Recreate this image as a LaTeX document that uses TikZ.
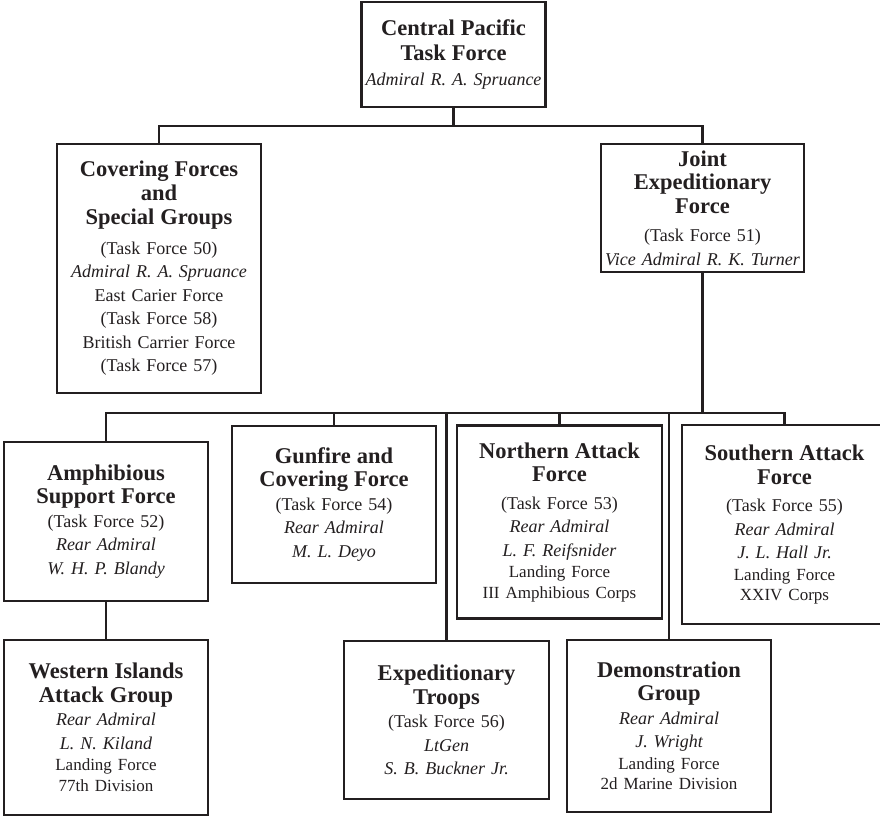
\documentclass[tikz,border=0pt]{standalone}
\usepackage{fontspec}
\setmainfont{Liberation Serif}
\frenchspacing
\definecolor{ink}{RGB}{35,31,32}
\newcommand{\hdr}[1]{{\fontsize{22.5}{24}\selectfont\bfseries #1}}
\newcommand{\itx}[1]{{\itshape #1}}
\newcommand{\smx}[1]{{\fontsize{17}{21}\selectfont #1}}
\begin{document}
\begin{tikzpicture}[x=1pt,y=-1pt,
  box/.style={draw=ink, line width=2.2pt, rectangle, inner sep=0pt, align=center,
    text=ink, font=\fontsize{18}{23.5}\selectfont\frenchspacing},
  link/.style={draw=ink, line width=2.2pt}]
\useasboundingbox (0,0) rectangle (880,816);
\fill[white] (0,0) rectangle (880,816);

\node[box, minimum width=184pt, minimum height=105pt, text width=180pt] (top) at (453.5,54.5)
  {\hdr{Central Pacific}\\[1pt]\hdr{Task Force}\\[1.5pt]\itx{Admiral R. A. Spruance}};

\node[box, minimum width=204pt, minimum height=249pt, text width=200pt] (cover) at (159,268.5)
  {\hdr{Covering Forces}\\[0.5pt]\hdr{and}\\[0.5pt]\hdr{Special Groups}\\[6pt]
   (Task Force 50)\\\itx{Admiral R. A. Spruance}\\East Carier Force\\(Task Force 58)\\
   British Carrier Force\\(Task Force 57)};

\node[box, minimum width=203pt, minimum height=128pt, text width=201pt] (joint) at (702.5,208)
  {\hdr{Joint}\\\hdr{Expeditionary}\\\hdr{Force}\\[5pt](Task Force 51)\\\itx{Vice Admiral R. K. Turner}};

\node[box, minimum width=204pt, minimum height=159pt, text width=200pt] (amph) at (106,521.5)
  {\hdr{Amphibious}\\\hdr{Support Force}\\[0pt](Task Force 52)\\\itx{Rear Admiral}\\\itx{W. H. P. Blandy}};

\node[box, minimum width=204pt, minimum height=157pt, text width=200pt] (gun) at (334,504.5)
  {\hdr{Gunfire and}\\\hdr{Covering Force}\\[0pt](Task Force 54)\\\itx{Rear Admiral}\\\itx{M. L. Deyo}};

\node[box, minimum width=205pt, minimum height=193pt, text width=201pt] (north) at (559.5,522)
  {\hdr{Northern Attack}\\\hdr{Force}\\[4pt](Task Force 53)\\\itx{Rear Admiral}\\\itx{L. F. Reifsnider}\\[-2pt]
   \smx{Landing Force}\\[-3pt]\smx{III Amphibious Corps}};

\node[box, minimum width=205pt, minimum height=199pt, text width=201pt] (south) at (784.5,524.5)
  {\hdr{Southern Attack}\\\hdr{Force}\\[4pt](Task Force 55)\\\itx{Rear Admiral}\\\itx{J. L. Hall Jr.}\\[-2pt]
   \smx{Landing Force}\\[-3pt]\smx{XXIV Corps}};

\node[box, minimum width=204pt, minimum height=175pt, text width=200pt] (west) at (106,727.5)
  {\hdr{Western Islands}\\\hdr{Attack Group}\\[0pt]\itx{Rear Admiral}\\\itx{L. N. Kiland}\\[-2pt]
   \smx{Landing Force}\\[-3pt]\smx{77th Division}};

\node[box, minimum width=205pt, minimum height=158pt, text width=201pt] (exped) at (446.5,720)
  {\hdr{Expeditionary}\\\hdr{Troops}\\[0pt](Task Force 56)\\\itx{LtGen}\\\itx{S. B. Buckner Jr.}};

\node[box, minimum width=204pt, minimum height=172pt, text width=200pt] (demo) at (669,726)
  {\hdr{Demonstration}\\\hdr{Group}\\[0pt]\itx{Rear Admiral}\\\itx{J. Wright}\\[-2pt]
   \smx{Landing Force}\\[-3pt]\smx{2d Marine Division}};

% connectors
\path (top.south) ++(0,18) coordinate (bar1);
\draw[link] (top.south) -- (bar1);
\draw[link] (cover.north) |- (bar1) -| (joint.north);

\path (joint.south) ++(0,140) coordinate (bar2);
\draw[link] (joint.south) -- (bar2);
\draw[link] (amph.north) |- (bar2) -| (south.north);
\draw[link] (gun.north) -- (gun.north |- bar2);
\draw[link] (exped.north) -- (exped.north |- bar2);
\draw[link] (north.north) -- (north.north |- bar2);
\draw[link] (demo.north) -- (demo.north |- bar2);
\draw[link] (amph.south) -- (west.north);
\end{tikzpicture}
\end{document}
